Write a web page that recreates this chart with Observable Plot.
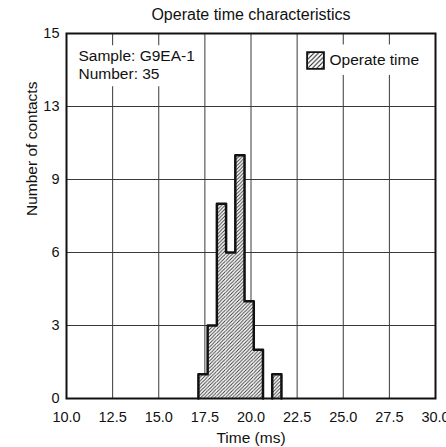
<!DOCTYPE html>
<html><head><meta charset="utf-8">
<script src="https://cdn.jsdelivr.net/npm/d3@7"></script>
<script src="https://cdn.jsdelivr.net/npm/@observablehq/plot@0.6"></script>
<style>body{margin:0;background:#fff} svg{display:block}</style>
</head><body>
<script>
// ---- data ----
const binStarts = [17.15, 17.65, 18.15, 18.65, 19.15, 19.65, 20.15, 20.65, 21.15];
const binWidth = 0.5;
const counts = [1, 3, 8, 6, 10, 4, 2, 0, 1];
const xTicks = [10, 12.5, 15, 17.5, 20, 22.5, 25, 27.5, 30];
const yTicks = [0, 3, 6, 9, 12, 15];
const yTickLabels = ["0", "3", "6", "9", "13", "15"];
const title = "Operate time characteristics";
const xLabel = "Time (ms)";
const yLabel = "Number of contacts";
const sampleNote = ["Sample: G9EA-1", "Number: 35"];
const legendLabel = "Operate time";

// ---- derived tables ----
const bins = binStarts.map((s, i) => ({x1: s, x2: s + binWidth, count: counts[i]}));
const outline = [];
let run = 0, inRun = false, lastEnd = null;
bins.forEach((b, i) => {
  if (b.count > 0) {
    if (!inRun) { run++; inRun = true; outline.push({x: b.x1, y: 0, run}); }
    outline.push({x: b.x1, y: b.count, run});
    lastEnd = b.x2;
  } else if (inRun) {
    outline.push({x: lastEnd, y: 0, run}); inRun = false;
  }
});
if (inRun) outline.push({x: lastEnd, y: 0, run});

const ink = "#111";
const font = "'Liberation Sans', Arial, Helvetica, sans-serif";

const svg = Plot.plot({
  width: 446,
  height: 447,
  marginLeft: 66,
  marginRight: 11,
  marginTop: 33,
  marginBottom: 49,
  style: {fontFamily: font, fontSize: "14.5px", color: ink, background: "#fff"},
  x: {domain: [10, 30]},
  y: {domain: [0, 15]},
  marks: [
    Plot.gridX(xTicks.filter(t => t > 10 && t < 30), {stroke: "#3a3a3a", strokeOpacity: 1, strokeWidth: 1}),
    Plot.gridY(yTicks.filter(t => t > 0 && t < 15), {stroke: "#3a3a3a", strokeOpacity: 1, strokeWidth: 1}),
    Plot.axisX(xTicks, {tickSize: 0, tickPadding: 13, tickFormat: d => d.toFixed(1), label: null, fontSize: 14.5}),
    Plot.axisY(yTicks, {tickSize: 0, tickPadding: 7, tickFormat: d => yTickLabels[yTicks.indexOf(d)], label: null, fontSize: 14.5}),
    Plot.rectY(bins.filter(b => b.count > 0), {x1: "x1", x2: "x2", y: "count", fill: "url(#hatch)"}),
    Plot.line(outline, {x: "x", y: "y", z: "run", curve: "step-after", stroke: ink, strokeWidth: 2.5}),
    Plot.text([sampleNote.join("\n")], {frameAnchor: "top-left", dx: 12, dy: 31, textAnchor: "start", lineAnchor: "middle", lineHeight: 1.16, fontSize: 15.5, fill: ink}),
    Plot.dot([legendLabel], {frameAnchor: "top-right", dx: -120, dy: 27, symbol: "square", r: 9.5, fill: "url(#hatchL)", stroke: ink, strokeWidth: 1.8}),
    Plot.text([legendLabel], {frameAnchor: "top-right", dx: -106, dy: 27, textAnchor: "start", lineAnchor: "middle", fontSize: 15.5, fill: ink}),
    Plot.frame({stroke: ink, strokeWidth: 2}),
    Plot.text([title], {frameAnchor: "top", dy: -19, lineAnchor: "middle", fontSize: 16, fill: ink}),
    Plot.text([xLabel], {frameAnchor: "bottom", dy: 40, lineAnchor: "middle", fontSize: 15.5, fill: ink}),
    Plot.text([yLabel], {frameAnchor: "left", dx: -34, rotate: -90, lineAnchor: "middle", fontSize: 15.5, fill: ink})
  ]
});

const ns = "http://www.w3.org/2000/svg";
const defs = document.createElementNS(ns, "defs");
defs.innerHTML =
  '<pattern id="hatch" patternUnits="userSpaceOnUse" width="3.5" height="3.5">' +
  '<rect width="3.5" height="3.5" fill="#fff"/>' +
  '<path d="M-1,1 L1,-1 M0,3.5 L3.5,0 M2.5,4.5 L4.5,2.5" stroke="#333" stroke-width="0.9"/></pattern>' +
  '<pattern id="hatchL" patternUnits="userSpaceOnUse" width="4.5" height="4.5">' +
  '<rect width="4.5" height="4.5" fill="#fff"/>' +
  '<path d="M-1,1 L1,-1 M0,4.5 L4.5,0 M3.5,5.5 L5.5,3.5" stroke="#222" stroke-width="1.1"/></pattern>';
svg.insertBefore(defs, svg.firstChild);
document.body.append(svg);

const texts = [...svg.querySelectorAll("text")];
function groupOfText(pred) {
  const t = texts.find(pred);
  return t ? t.closest("g") : null;
}
function boxBehind(groups, pad) {
  groups = groups.filter(Boolean);
  if (!groups.length) return;
  let x0 = Infinity, y0 = Infinity, x1 = -Infinity, y1 = -Infinity;
  for (const g of groups) {
    const b = g.getBBox();
    x0 = Math.min(x0, b.x); y0 = Math.min(y0, b.y);
    x1 = Math.max(x1, b.x + b.width); y1 = Math.max(y1, b.y + b.height);
  }
  const r = document.createElementNS(ns, "rect");
  r.setAttribute("x", x0 - pad[3]); r.setAttribute("y", y0 - pad[0]);
  r.setAttribute("width", x1 - x0 + pad[1] + pad[3]); r.setAttribute("height", y1 - y0 + pad[0] + pad[2]);
  r.setAttribute("fill", "#fff"); r.setAttribute("stroke", "none");
  groups[0].insertBefore(r, groups[0].firstChild);
}
const noteG = groupOfText(t => t.textContent.startsWith(sampleNote[0]));
const legTextG = groupOfText(t => t.textContent === legendLabel);
let swatchEl = svg.querySelector('[fill="url(#hatchL)"]');
const swatchG = swatchEl ? (swatchEl.tagName.toLowerCase() === "g" ? swatchEl : swatchEl.closest("g")) : null;
boxBehind([noteG], [2, 5, 4, 8]);
boxBehind([swatchG, legTextG], [7, 8, 6, 6]);
</script>
</body></html>
